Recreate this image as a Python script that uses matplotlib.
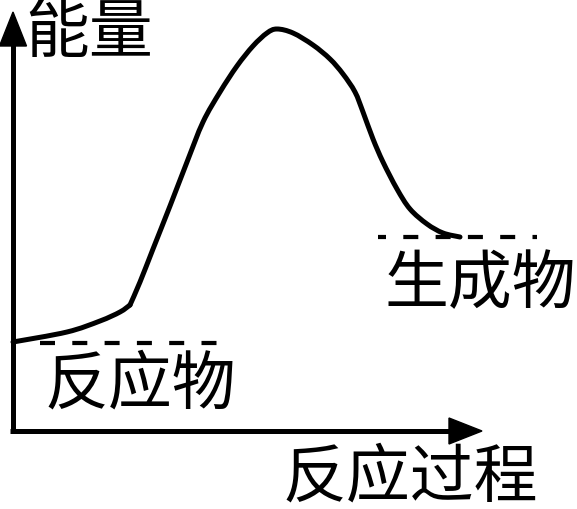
import matplotlib
matplotlib.use("Agg")
import matplotlib.pyplot as plt
from matplotlib.patches import Polygon, PathPatch
from matplotlib.path import Path

plt.rcParams['font.family'] = ['Noto Sans CJK SC', 'DejaVu Sans']
plt.rcParams['lines.scale_dashes'] = False

# ---- data (reaction progress vs energy, arbitrary units) ----
# slow rise of reactants up to the knee
progress_a = [0, 54, 87, 107, 117]
energy_a = [89, 99, 110, 119, 126]
# barrier and descent to products
progress_b = [117, 127, 140, 157, 174, 190, 207, 224, 240, 254, 264, 280,
              300, 317, 330, 342, 350, 360, 370, 384, 397, 414, 430, 447]
energy_b = [126, 149, 182, 225, 269, 309, 339, 365, 385, 398, 402, 398,
            386, 372, 357, 339, 319, 292, 269, 242, 222, 207, 198, 194]

reactant_level = 88
reactant_span = [27, 205]
product_level = 194.5
product_span = [365, 524]

axis_x_max = 469
axis_y_max = 419

label_y = "能量"
label_x = "反应过程"
label_reactant = "反应物"
label_product = "生成物"


def smooth_path(xs, ys):
    pts = list(zip(xs, ys))
    n = len(pts)
    verts = [pts[0]]
    codes = [Path.MOVETO]
    for i in range(n - 1):
        p0 = pts[i - 1] if i > 0 else pts[i]
        p1 = pts[i]
        p2 = pts[i + 1]
        p3 = pts[i + 2] if i + 2 < n else pts[i + 1]
        c1 = (p1[0] + (p2[0] - p0[0]) / 6, p1[1] + (p2[1] - p0[1]) / 6)
        c2 = (p2[0] - (p3[0] - p1[0]) / 6, p2[1] - (p3[1] - p1[1]) / 6)
        verts += [c1, c2, p2]
        codes += [Path.CURVE4] * 3
    return Path(verts, codes)


# ---- figure ----
W, H = 577, 510
fig = plt.figure(figsize=(W / 100, H / 100), dpi=100)
ax = fig.add_axes([0, 0, 1, 1])
ax.set_xlim(-13, W - 13)
ax.set_ylim(432 - H, 432)
ax.axis('off')

px = 72 / 100  # points per pixel

# axes shafts
ax.plot([0, 0], [0, axis_y_max - 30], color='black', lw=5 * px,
        solid_capstyle='butt')
ax.plot([-2.5, axis_x_max - 30], [0, 0], color='black', lw=5 * px,
        solid_capstyle='butt')
# arrowheads
ax.add_patch(Polygon([[0, axis_y_max], [-13.5, axis_y_max - 34],
                      [13.5, axis_y_max - 34]], closed=True, color='black'))
ax.add_patch(Polygon([[axis_x_max, 0], [axis_x_max - 33, 13],
                      [axis_x_max - 33, -13]], closed=True, color='black'))

# energy curve
for xs, ys in ((progress_a, energy_a), (progress_b, energy_b)):
    ax.add_patch(PathPatch(smooth_path(xs, ys), facecolor='none',
                           edgecolor='black', lw=5 * px,
                           joinstyle='round', capstyle='round'))

# dashed levels
ax.plot(reactant_span, [reactant_level] * 2, color='black', lw=4.2 * px,
        linestyle=(0, (15 * px, 17.3 * px)), dash_capstyle='butt')
ax.plot(product_span, [product_level] * 2, color='black', lw=4.2 * px,
        linestyle=(7 * px, (15 * px, 17.3 * px)), dash_capstyle='butt')

fs = 46
ax.text(12, 398, label_y, fontsize=fs, ha='left', va='center')
ax.text(31, 47, label_reactant, fontsize=fs, ha='left', va='center')
ax.text(372, 147, label_product, fontsize=fs, ha='left', va='center')
ax.text(269, -46, label_x, fontsize=fs, ha='left', va='center')

fig.savefig("out.png", dpi=100)
